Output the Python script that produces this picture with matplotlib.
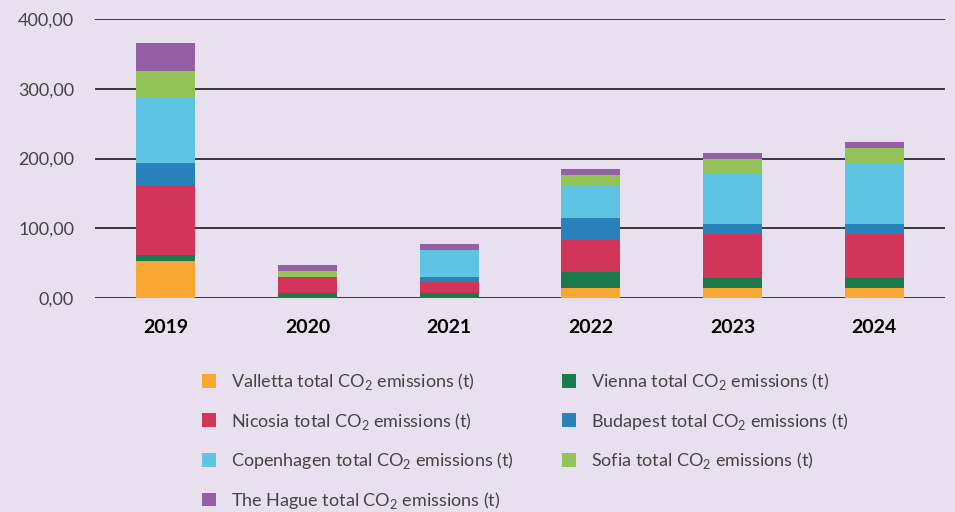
import matplotlib
matplotlib.use("Agg")
import matplotlib.pyplot as plt
from matplotlib.ticker import FuncFormatter
import numpy as np

# values (tonnes CO2), one list per city
years = ["2019", "2020", "2021", "2022", "2023", "2024"]
valletta = [53.5, 0, 0, 13.8, 14.8, 14.8]
vienna = [8.2, 6.7, 6.7, 23.9, 14.3, 14.3]
nicosia = [100.4, 22.9, 16.2, 45.4, 63.1, 63.1]
budapest = [32.0, 0, 6.7, 32.0, 14.3, 14.3]
copenhagen = [93.2, 0, 38.7, 45.4, 70.7, 86.0]
sofia = [38.3, 8.6, 0, 16.2, 22.5, 22.9]
hague = [40.2, 8.6, 8.6, 8.6, 8.6, 8.6]

cities = ["Valletta", "Vienna", "Nicosia", "Budapest", "Copenhagen", "Sofia", "The Hague"]
series = [valletta, vienna, nicosia, budapest, copenhagen, sofia, hague]
colors = ["#F9A732", "#1B7A4B", "#D2355A", "#2A82BC", "#5EC4E2", "#93C256", "#955FA5"]

BG = "#E8E0EF"
TXT = "#444444"

plt.rcParams['font.family'] = ['Lato', 'DejaVu Sans']
plt.rcParams['mathtext.fontset'] = 'custom'
plt.rcParams['mathtext.rm'] = 'Lato'

fig = plt.figure(figsize=(9.55, 5.12), dpi=100, facecolor=BG)
ax = fig.add_axes([95 / 955, 214 / 512, 850 / 955, 279 / 512], facecolor=BG)

x = np.arange(len(years))
bottom = np.zeros(len(years))
bars = {}
for name, vals, col in zip(cities, series, colors):
    bars[name] = ax.bar(x, vals, width=0.416, bottom=bottom, color=col, zorder=3,
                        label=f"{name} total CO$_2$ emissions (t)")
    bottom += np.array(vals)

ax.set_xlim(-0.5, len(years) - 0.5)
ax.set_ylim(0, 400)
ax.set_yticks([0, 100, 200, 300, 400])
ax.yaxis.set_major_formatter(FuncFormatter(lambda v, p: f"{v:.2f}".replace(".", ",")))
ax.set_xticks(x)
ax.set_xticklabels(years, fontsize=14, fontweight="bold", color="black")
ax.tick_params(axis="x", length=0, pad=15)
ax.tick_params(axis="y", length=0, pad=15, labelsize=13, labelcolor=TXT)
ax.grid(axis="y", color="#2a2a2a", linewidth=1.3, zorder=0)
for s in ax.spines.values():
    s.set_visible(False)

# legend: two columns placed by hand
col1 = ["Valletta", "Nicosia", "Copenhagen", "The Hague"]
col2 = ["Vienna", "Budapest", "Sofia"]
leg_kw = dict(frameon=False, fontsize=13, labelcolor=TXT, handlelength=0.8,
              handleheight=0.8, handletextpad=0.8, labelspacing=1.03,
              borderpad=0, borderaxespad=0, loc="upper left")
leg1 = fig.legend([bars[c] for c in col1], [bars[c].get_label() for c in col1],
                  bbox_to_anchor=(202 / 955, 1 - 371 / 512), **leg_kw)
leg2 = fig.legend([bars[c] for c in col2], [bars[c].get_label() for c in col2],
                  bbox_to_anchor=(562 / 955, 1 - 371 / 512), **leg_kw)

fig.savefig("out.png", dpi=100, facecolor=BG)
